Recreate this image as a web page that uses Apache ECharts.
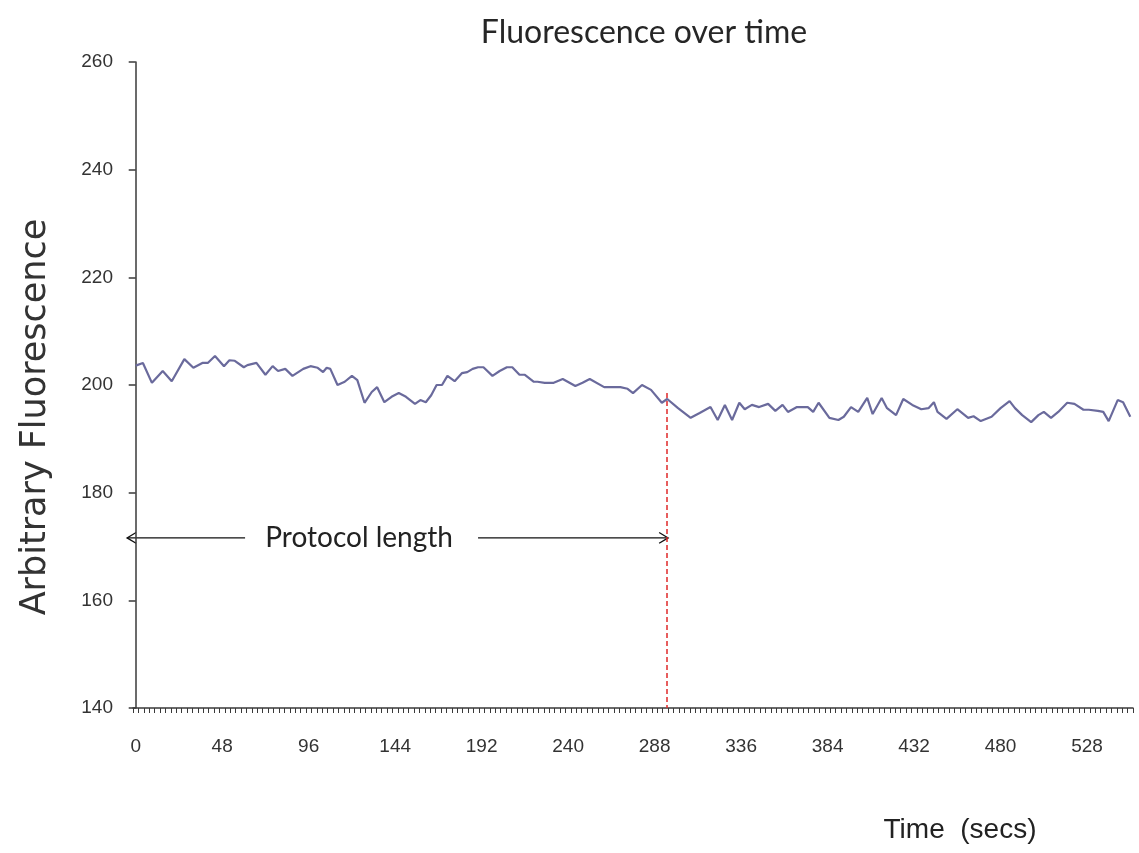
<!DOCTYPE html>
<html>
<head>
<meta charset="utf-8">
<script src="https://cdn.jsdelivr.net/npm/echarts@6/dist/echarts.min.js"></script>
<style>
html,body{margin:0;padding:0;background:#fff;}
#c{width:1139px;height:853px;}
</style>
</head>
<body>
<div id="c"></div>
<script>
// Time (secs) of traced vertices and fluorescence values
const times = [0,4,9,15,16,20,27,32,37,40,44,49,52,55,60,62,67,72,76,79,83,87,93,97,101,104,106,108,112,116,120,123,127,131,134,138,142,146,150,155,158,161,164,167,170,173,177,181,184,187,190,193,198,202,206,209,213,216,221,223,227,232,237,244,248,252,260,265,269,273,276,281,286,292,295,301,308,313,319,323,327,331,335,338,342,346,351,355,359,362,367,373,376,379,385,390,393,397,401,406,409,414,417,422,426,431,436,440,443,445,450,456,462,465,469,475,480,485,488,492,497,501,504,508,512,517,521,526,529,534,537,540,545,548,552];
const fluor = [203.6,204.1,200.4,202.6,202.6,200.7,204.8,203.2,204.1,204.1,205.4,203.5,204.6,204.5,203.3,203.7,204.1,201.9,203.5,202.6,203.0,201.7,203.0,203.5,203.2,202.4,203.2,203.0,200.0,200.6,201.7,200.9,196.7,198.7,199.6,196.8,197.8,198.5,197.8,196.5,197.2,196.8,198.1,200.0,200.0,201.7,200.7,202.2,202.4,203.0,203.3,203.3,201.7,202.6,203.3,203.3,201.9,201.9,200.6,200.6,200.4,200.4,201.1,199.8,200.4,201.1,199.6,199.6,199.6,199.3,198.5,200.0,199.1,196.7,197.4,195.7,193.9,194.8,195.9,193.5,196.3,193.5,196.7,195.5,196.3,195.9,196.5,195.2,196.3,195.0,195.9,195.9,195.0,196.7,193.9,193.5,194.1,195.9,195.0,197.6,194.6,197.6,195.7,194.4,197.4,196.3,195.5,195.7,196.8,195.0,193.7,195.5,193.9,194.2,193.3,194.1,195.7,197.0,195.7,194.4,193.1,194.4,195.0,193.9,195.0,196.7,196.5,195.4,195.4,195.2,195.0,193.3,197.2,196.8,194.1];
// Category axis: one category every 3 seconds, labelled every 48 seconds
const catStep = 3;
const catCount = 185;
const categories = [];
for (let i = 0; i < catCount; i++) categories.push(String(i * catStep));
const yTicks = {min: 140, max: 260, interval: 20};
const protocolEnd = 295;      // seconds (dashed red line)
const arrowLevel = 171.6;     // fluorescence level of the arrows
const labelTime = 124;        // centre of "Protocol length"

const chart = echarts.init(document.getElementById('c'));
const narrow = '"Liberation Sans Narrow", "Arial Narrow", "Liberation Sans", Arial, sans-serif';
const option = {
  backgroundColor: '#ffffff',
  animation: false,
  title: {
    text: 'Fluorescence over time',
    left: 639, top: 12, textAlign: 'center',
    textStyle: {fontFamily: 'Lato, "Open Sans", sans-serif', fontWeight: 'normal', fontSize: 32, color: '#262626'}
  },
  grid: {left: 133, right: 6, top: 62, bottom: 145, containLabel: false},
  xAxis: [{
    type: 'category',
    data: categories,
    boundaryGap: true,
    axisLine: {lineStyle: {color: '#3a3a3a', width: 1.5}},
    axisTick: {show: true, interval: 0, length: 5, lineStyle: {color: '#3a3a3a', width: 1}},
    axisLabel: {interval: 15, margin: 29, fontFamily: narrow, fontSize: 19, color: '#333'},
    splitLine: {show: false}
  }, {
    type: 'value',
    min: -catStep / 2, max: catCount * catStep - catStep / 2,
    show: false
  }],
  yAxis: {
    type: 'value',
    min: yTicks.min, max: yTicks.max, interval: yTicks.interval,
    axisLine: {show: true, lineStyle: {color: '#3a3a3a', width: 1.5}},
    axisTick: {show: true, length: 7, lineStyle: {color: '#3a3a3a', width: 1.5}},
    axisLabel: {margin: 20, fontFamily: narrow, fontSize: 19, color: '#333'},
    splitLine: {show: false}
  },
  series: [{
    type: 'line',
    xAxisIndex: 1,
    data: times.map((t, i) => [t, fluor[i]]),
    showSymbol: false,
    symbol: 'none',
    lineStyle: {color: '#6a6a9c', width: 2.2},
    markLine: {
      silent: true,
      symbol: ['none', 'none'],
      label: {show: false},
      lineStyle: {color: '#e02828', type: [5, 3], width: 1.5},
      data: [[{coord: [protocolEnd, 198.5]}, {coord: [protocolEnd, yTicks.min]}]]
    }
  }]
};
chart.setOption(option);

// Annotation: "Protocol length" with arrows, placed through the axes' scales
const px = (t, v) => chart.convertToPixel({xAxisIndex: 1, yAxisIndex: 0}, [t, v]);
const leftTip = px(-4.8, arrowLevel);
const leftEnd = px(60.7, arrowLevel);
const rightStart = px(190, arrowLevel);
const rightTip = px(protocolEnd + 0.5, arrowLevel);
const mid = px(labelTime, arrowLevel);
const head = 9;
const st = {stroke: '#111', lineWidth: 1.3, fill: null};
chart.setOption({
  graphic: [
    {type: 'polyline', shape: {points: [leftTip, leftEnd]}, style: st},
    {type: 'polyline', shape: {points: [[leftTip[0] + head, leftTip[1] - head * 0.6], leftTip, [leftTip[0] + head, leftTip[1] + head * 0.6]]}, style: st},
    {type: 'polyline', shape: {points: [rightStart, rightTip]}, style: st},
    {type: 'polyline', shape: {points: [[rightTip[0] - head, rightTip[1] - head * 0.6], rightTip, [rightTip[0] - head, rightTip[1] + head * 0.6]]}, style: st},
    {type: 'text', x: mid[0], y: mid[1], style: {text: 'Protocol length', align: 'center', verticalAlign: 'middle', fontFamily: 'Lato, "Open Sans", sans-serif', fontSize: 28, fill: '#222'}},
    {type: 'text', x: 960, y: 830, style: {text: 'Time  (secs)', align: 'center', verticalAlign: 'middle', fontFamily: narrow, fontSize: 28, fill: '#222'}},
    {type: 'text', x: 36, y: 417, rotation: Math.PI / 2, style: {text: 'Arbitrary Fluorescence', align: 'center', verticalAlign: 'middle', fontFamily: '"DejaVu Sans", Verdana, sans-serif', fontSize: 35, fill: '#333'}}
  ]
});
</script>
</body>
</html>
